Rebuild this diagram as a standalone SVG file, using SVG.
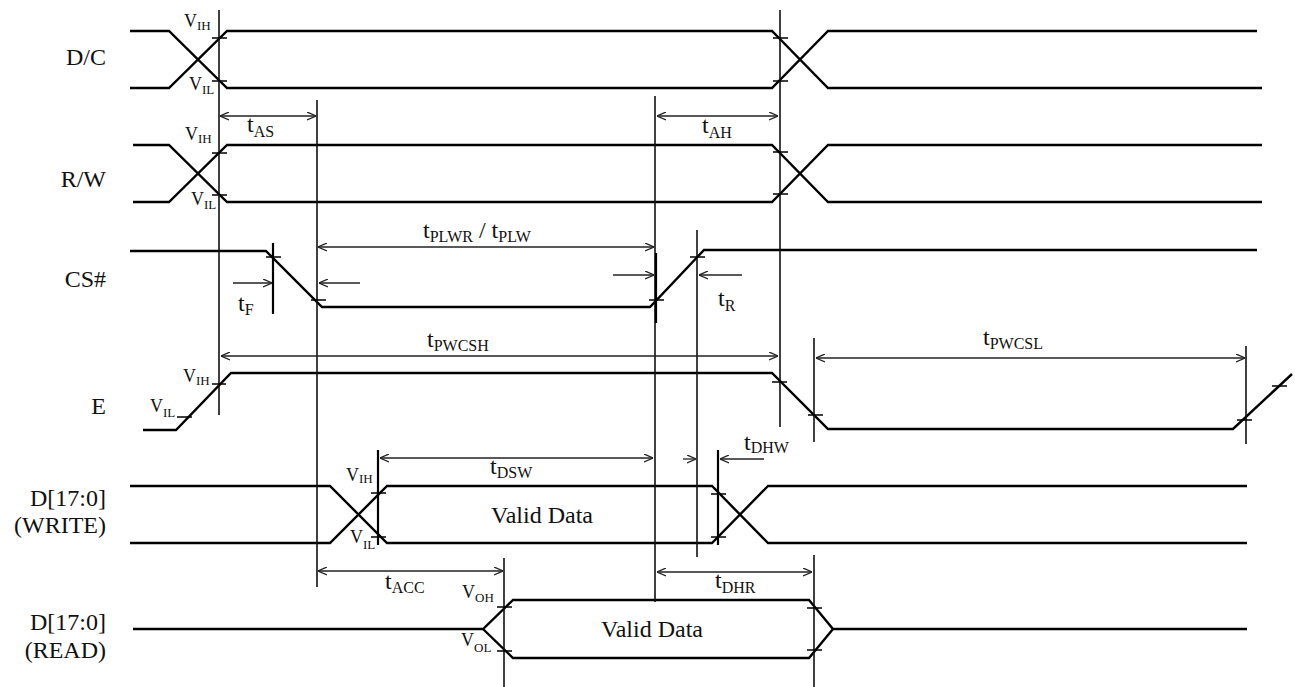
<svg xmlns="http://www.w3.org/2000/svg" width="1295" height="687" viewBox="0 0 1295 687">
<style>
.sig{fill:none;stroke:#000;stroke-width:2.4;stroke-linejoin:miter}
.ref{fill:none;stroke:#111;stroke-width:1.6}
.refb{fill:none;stroke:#000;stroke-width:2.2}
.tick{fill:none;stroke:#000;stroke-width:1.4}
.dim{fill:none;stroke:#222;stroke-width:1.3}
.dd{marker-start:url(#ah);marker-end:url(#ah)}
.de{marker-end:url(#ah)}
text{font-family:"Liberation Serif","Times New Roman",serif;fill:#111}
.lbl{font-size:24px;text-anchor:end}
.t{font-size:24px}
.s{font-size:16px}
.v{font-size:18px}
.vs{font-size:13px}
.vd{font-size:24px;text-anchor:middle}
</style>
<defs>
<marker id="ah" viewBox="0 0 9 9" refX="9" refY="4.5" markerWidth="9" markerHeight="9" markerUnits="userSpaceOnUse" orient="auto-start-reverse">
<path d="M0,0.5 L9,4.5 L0,8.5" fill="none" stroke="#222" stroke-width="1.3"/>
</marker>
</defs>
<rect width="1295" height="687" fill="#fff"/>

<g id="sig-dc">
<text class="lbl" x="106" y="65">D/C</text>
<path class="sig" d="M130,31 H169 L227,88 H772 L828,31 H1257"/>
<path class="sig" d="M130,88 H169 L227,31 H772 L828,88 H1262"/>
<text class="v" x="184" y="27">V<tspan class="vs" dy="3">IH</tspan></text>
<text class="v" x="189" y="90">V<tspan class="vs" dy="4">IL</tspan></text>
</g>

<g id="sig-rw">
<text class="lbl" x="106" y="187">R/W</text>
<path class="sig" d="M133,145 H169 L227,202 H772 L828,145 H1262"/>
<path class="sig" d="M133,202 H169 L227,145 H772 L828,202 H1262"/>
<text class="v" x="185" y="140">V<tspan class="vs" dy="3">IH</tspan></text>
<text class="v" x="191" y="205">V<tspan class="vs" dy="4">IL</tspan></text>
</g>

<g id="sig-cs">
<text class="lbl" x="106" y="287">CS#</text>
<path class="sig" d="M130,251 H266 L322,307 H650 L704,250 H1257"/>
</g>

<g id="sig-e">
<text class="lbl" x="106" y="414">E</text>
<path class="sig" d="M143,430 H176 L231,373 H772 L828,429 H1233 L1292,374"/>
<text class="v" x="183" y="382">V<tspan class="vs" dy="3">IH</tspan></text>
<text class="v" x="150" y="412">V<tspan class="vs" dy="5">IL</tspan></text>
</g>

<g id="sig-dw">
<text class="lbl" x="106" y="506">D[17:0]</text>
<text class="lbl" x="106" y="533">(WRITE)</text>
<path class="sig" d="M130,486 H330 L387,543 H712 L768,486 H1247"/>
<path class="sig" d="M130,543 H330 L387,486 H712 L768,543 H1247"/>
<text class="v" x="346" y="481">V<tspan class="vs" dy="2">IH</tspan></text>
<text class="v" x="350" y="543">V<tspan class="vs" dy="6">IL</tspan></text>
<text class="vd" x="542" y="523">Valid Data</text>
</g>

<g id="sig-dr">
<text class="lbl" x="106" y="630">D[17:0]</text>
<text class="lbl" x="106" y="658">(READ)</text>
<path class="sig" d="M133,629 H483 L513,600 H809 L833,629 H1247"/>
<path class="sig" d="M483,629 L513,658 H809 L833,629"/>
<text class="v" x="462" y="598">V<tspan class="vs" dy="4">OH</tspan></text>
<text class="v" x="461" y="646">V<tspan class="vs" dy="6">OL</tspan></text>
<text class="vd" x="652" y="637">Valid Data</text>
</g>

<g id="connectors">
<path class="ref" d="M219,10 V415"/>
<path class="ref" d="M317,100 V587"/>
<path class="ref" d="M655,96 V602"/>
<path class="ref" d="M780,10 V427"/>
<path class="ref" d="M697,230 V557"/>
<path class="refb" d="M273,243 V314"/>
<path class="refb" d="M656,253 V323"/>
<path class="ref" d="M814,338 V442"/>
<path class="ref" d="M1246,346 V444"/>
<path class="refb" d="M378,450 V545"/>
<path class="refb" d="M718,450 V545"/>
<path class="ref" d="M504,558 V687"/>
<path class="ref" d="M814,555 V687"/>
<path class="tick" d="M212,38 H227 M212,81 H227 M773,38 H788 M773,81 H788
M212,153 H227 M212,195 H227 M773,152 H788 M773,194 H788
M266,257 H281 M311,300 H326 M649,300 H664 M690,257 H705
M177,417 H192 M212,384 H226 M772,382 H787 M808,415 H823 M1237,420 H1252 M1272,386 H1287
M371,493 H386 M371,537 H386 M711,494 H726 M711,537 H726
M497,607 H512 M497,651 H512 M807,608 H822 M807,650 H822"/>
<path class="dim dd" d="M220,116 H316"/>
<path class="dim dd" d="M657,116 H778"/>
<path class="dim dd" d="M318,247 H654"/>
<path class="dim de" d="M233,283 H272"/>
<path class="dim de" d="M360,283 H319"/>
<path class="dim de" d="M613,275 H654"/>
<path class="dim de" d="M742,275 H699"/>
<path class="dim dd" d="M221,356 H778"/>
<path class="dim dd" d="M816,358 H1245"/>
<path class="dim dd" d="M380,458 H653"/>
<path class="dim de" d="M683,459 H696"/>
<path class="dim de" d="M764,459 H720"/>
<path class="dim dd" d="M318,571 H503"/>
<path class="dim dd" d="M657,572 H812"/>
<text class="t" x="247" y="132">t<tspan class="s" dy="5">AS</tspan></text>
<text class="t" x="702" y="133">t<tspan class="s" dy="5">AH</tspan></text>
<text class="t" x="238" y="311">t<tspan class="s" dy="4">F</tspan></text>
<text class="t" x="718" y="306">t<tspan class="s" dy="5">R</tspan></text>
<text class="t" x="423" y="238">t<tspan class="s" dy="4">PLWR</tspan><tspan dy="-4"> / t</tspan><tspan class="s" dy="4">PLW</tspan></text>
<text class="t" x="427" y="347">t<tspan class="s" dy="4">PWCSH</tspan></text>
<text class="t" x="983" y="345">t<tspan class="s" dy="4">PWCSL</tspan></text>
<text class="t" x="490" y="474">t<tspan class="s" dy="4">DSW</tspan></text>
<text class="t" x="744" y="450">t<tspan class="s" dy="3">DHW</tspan></text>
<text class="t" x="385" y="589">t<tspan class="s" dy="4">ACC</tspan></text>
<text class="t" x="715" y="588">t<tspan class="s" dy="5">DHR</tspan></text>
</g>
</svg>
